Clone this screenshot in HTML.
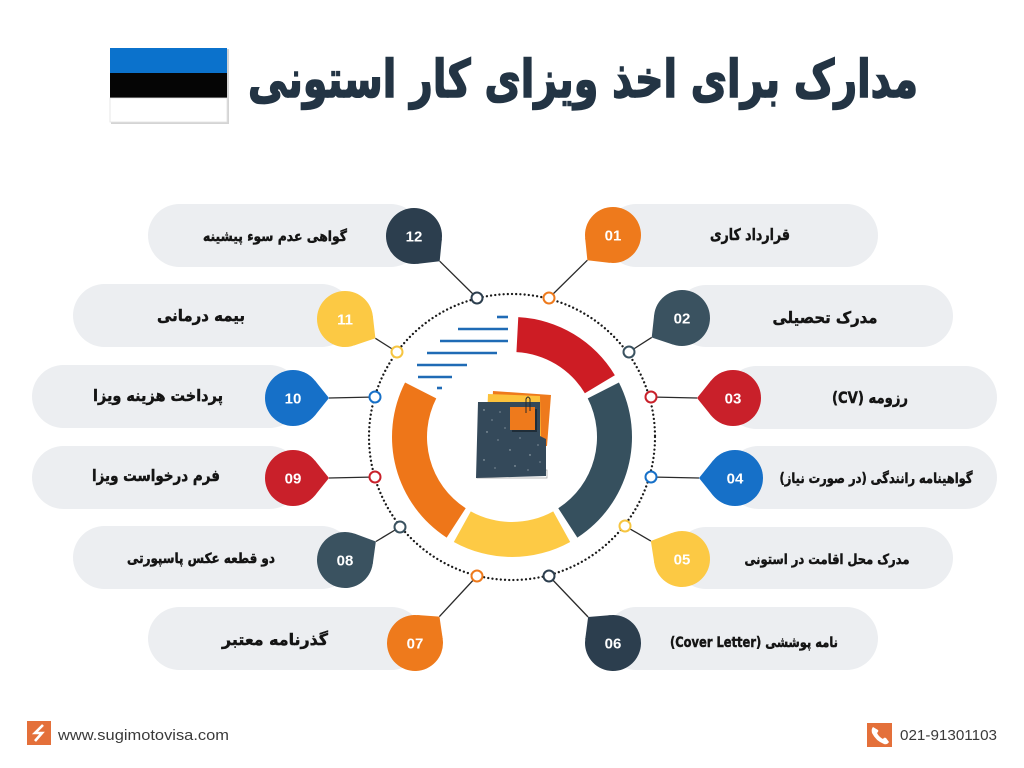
<!DOCTYPE html>
<html><head><meta charset="utf-8"><style>
html,body{margin:0;padding:0;background:#fff;}
svg{display:block;}
.lbl{font-family:"DejaVu Sans",sans-serif;font-weight:bold;fill:#141414;stroke:#141414;stroke-width:0.45;}
.num{font-family:"Liberation Sans",sans-serif;font-weight:bold;fill:#fff;font-size:15px;}
</style></head><body>
<svg width="1024" height="768" viewBox="0 0 1024 768" xmlns="http://www.w3.org/2000/svg">
<rect width="1024" height="768" fill="#fff"/>

<!-- Flag -->
<rect x="111" y="49" width="118" height="75" fill="#d4d4d4"/>
<rect x="110" y="48" width="117" height="25" fill="#0b72cc"/>
<rect x="110" y="73" width="117" height="25" fill="#050505"/>
<rect x="110" y="98" width="117" height="24" fill="#ffffff" stroke="#e2e2e2" stroke-width="0.8"/>

<!-- Title -->
<text x="583" y="97" text-anchor="middle" direction="rtl" font-family="DejaVu Sans, sans-serif" font-weight="bold" font-size="52" fill="#233444" stroke="#233444" stroke-width="1.6" textLength="670" lengthAdjust="spacingAndGlyphs">مدارک برای اخذ ویزای کار استونی</text>

<!-- Pills right -->
<g fill="#eceef1">
<rect x="605" y="204" width="273" height="63" rx="31.5"/>
<rect x="675" y="285" width="278" height="62" rx="31"/>
<rect x="725" y="366" width="272" height="63" rx="31.5"/>
<rect x="727" y="446" width="270" height="63" rx="31.5"/>
<rect x="675" y="527" width="278" height="62" rx="31"/>
<rect x="605" y="607" width="273" height="63" rx="31.5"/>
<!-- Pills left -->
<rect x="148" y="204" width="274" height="63" rx="31.5"/>
<rect x="73" y="284" width="280" height="63" rx="31.5"/>
<rect x="32" y="365" width="269" height="63" rx="31.5"/>
<rect x="32" y="446" width="269" height="63" rx="31.5"/>
<rect x="73" y="526" width="280" height="63" rx="31.5"/>
<rect x="148" y="607" width="275" height="63" rx="31.5"/>
</g>

<!-- Dotted circle -->
<circle cx="512" cy="437" r="143" fill="none" stroke="#1a1a1a" stroke-width="2.3" stroke-dasharray="0.01 4.2" stroke-linecap="round"/>

<!-- Connector lines -->
<g stroke="#2a2a2a" stroke-width="1.3">
<line x1="587.4" y1="260.2" x2="549" y2="298"/>
<line x1="651.7" y1="337.4" x2="629" y2="352"/>
<line x1="697" y1="398" x2="651" y2="397"/>
<line x1="699" y1="478" x2="651" y2="477"/>
<line x1="650.9" y1="541" x2="625" y2="526"/>
<line x1="588.1" y1="617" x2="549" y2="576"/>
<line x1="439.7" y1="261.2" x2="477" y2="298"/>
<line x1="375.4" y1="338.3" x2="397" y2="352"/>
<line x1="329" y1="398" x2="375" y2="397"/>
<line x1="329" y1="478" x2="375" y2="477"/>
<line x1="375.9" y1="541.5" x2="400" y2="527"/>
<line x1="439.4" y1="616.6" x2="477" y2="576"/>
</g>

<!-- Markers -->
<g fill="#fff" stroke-width="2">
<circle cx="549" cy="298" r="5.5" stroke="#ee7a1c"/>
<circle cx="629" cy="352" r="5.5" stroke="#3a5260"/>
<circle cx="651" cy="397" r="5.5" stroke="#c9202a"/>
<circle cx="651" cy="477" r="5.5" stroke="#1670c8"/>
<circle cx="625" cy="526" r="5.5" stroke="#f6c540"/>
<circle cx="549" cy="576" r="5.5" stroke="#2c3e4e"/>
<circle cx="477" cy="576" r="5.5" stroke="#ee7a1c"/>
<circle cx="400" cy="527" r="5.5" stroke="#3a5260"/>
<circle cx="375" cy="477" r="5.5" stroke="#c9202a"/>
<circle cx="375" cy="397" r="5.5" stroke="#1670c8"/>
<circle cx="397" cy="352" r="5.5" stroke="#f6c540"/>
<circle cx="477" cy="298" r="5.5" stroke="#2c3e4e"/>
</g>

<!-- Donut -->
<path d="M518.28,317.17 A120,120 0 0 1 614.86,375.20 L584.86,393.22 A85,85 0 0 0 516.45,352.12 Z" fill="#cd1c24"/>
<path d="M618.92,382.52 A120,120 0 0 1 577.35,537.64 L558.29,508.29 A85,85 0 0 0 587.74,398.41 Z" fill="#36505e"/>
<path d="M570.18,541.95 A120,120 0 0 1 453.82,541.95 L470.79,511.34 A85,85 0 0 0 553.21,511.34 Z" fill="#fdca45"/>
<path d="M446.65,537.64 A120,120 0 0 1 405.08,382.52 L436.27,398.41 A85,85 0 0 0 465.71,508.29 Z" fill="#ee7619"/>

<!-- Blue stripes -->
<g stroke="#1f6bb5" stroke-width="2.6">
<line x1="497" y1="317" x2="508" y2="317"/>
<line x1="458" y1="329" x2="508" y2="329"/>
<line x1="440" y1="341" x2="508" y2="341"/>
<line x1="427" y1="353" x2="497" y2="353"/>
<line x1="417" y1="365" x2="467" y2="365"/>
<line x1="418" y1="377" x2="452" y2="377"/>
<line x1="437" y1="388" x2="442" y2="388"/>
</g>

<!-- Folder icon -->
<rect x="477" y="470" width="70" height="8" fill="#fff" stroke="#9a9a9a" stroke-width="0.7"/>
<polygon points="493,391 551,395 547,446 490,446" fill="#ee7a1c"/>
<polygon points="488,394 540,396 541,442 486,442" fill="#fcc23c"/>
<path d="M478,402 L540,402 L540,436 L546,439 L546,476 L476,478 Z" fill="#34495a"/>
<rect x="512" y="409" width="25" height="23" fill="#1f2d38"/>
<rect x="510" y="407" width="25" height="23" fill="#ee7a1c"/>
<path d="M526,413 L526,399 Q528,395 530,399 L530,411" fill="none" stroke="#2a2a2a" stroke-width="1"/>
<g fill="#cfd8dc" opacity="0.8">
<circle cx="484" cy="410" r="0.7"/><circle cx="492" cy="420" r="0.6"/><circle cx="500" cy="412" r="0.6"/>
<circle cx="487" cy="432" r="0.7"/><circle cx="498" cy="440" r="0.6"/><circle cx="510" cy="450" r="0.7"/>
<circle cx="520" cy="438" r="0.6"/><circle cx="530" cy="455" r="0.7"/><circle cx="538" cy="445" r="0.6"/>
<circle cx="484" cy="460" r="0.7"/><circle cx="495" cy="468" r="0.6"/><circle cx="515" cy="466" r="0.7"/>
<circle cx="528" cy="470" r="0.6"/><circle cx="540" cy="462" r="0.6"/><circle cx="505" cy="428" r="0.6"/>
</g>

<!-- Number badges -->
<g transform="translate(613,235) rotate(135.4)" fill="#ee7a1c"><circle r="28"/><path d="M36,0 L21.8,17.6 L21.8,-17.6 Z"/></g>
<g transform="translate(682,318) rotate(147.3)" fill="#3a5260"><circle r="28"/><path d="M36,0 L21.8,17.6 L21.8,-17.6 Z"/></g>
<g transform="translate(733,398) rotate(180)" fill="#c9202a"><circle r="28"/><path d="M36,0 L21.8,17.6 L21.8,-17.6 Z"/></g>
<g transform="translate(735,478) rotate(180)" fill="#1670c8"><circle r="28"/><path d="M36,0 L21.8,17.6 L21.8,-17.6 Z"/></g>
<g transform="translate(682,559) rotate(210.1)" fill="#fcc944"><circle r="28"/><path d="M36,0 L21.8,17.6 L21.8,-17.6 Z"/></g>
<g transform="translate(613,643) rotate(226.3)" fill="#2c3e4e"><circle r="28"/><path d="M36,0 L21.8,17.6 L21.8,-17.6 Z"/></g>
<g transform="translate(414,236) rotate(44.5)" fill="#2c3e4e"><circle r="28"/><path d="M36,0 L21.8,17.6 L21.8,-17.6 Z"/></g>
<g transform="translate(345,319) rotate(32.4)" fill="#fcc944"><circle r="28"/><path d="M36,0 L21.8,17.6 L21.8,-17.6 Z"/></g>
<g transform="translate(293,398) rotate(0)" fill="#1670c8"><circle r="28"/><path d="M36,0 L21.8,17.6 L21.8,-17.6 Z"/></g>
<g transform="translate(293,478) rotate(0)" fill="#c9202a"><circle r="28"/><path d="M36,0 L21.8,17.6 L21.8,-17.6 Z"/></g>
<g transform="translate(345,560) rotate(-31)" fill="#3a5260"><circle r="28"/><path d="M36,0 L21.8,17.6 L21.8,-17.6 Z"/></g>
<g transform="translate(415,643) rotate(-47.2)" fill="#ee7a1c"><circle r="28"/><path d="M36,0 L21.8,17.6 L21.8,-17.6 Z"/></g>

<g class="num" text-anchor="middle">
<text x="613" y="240.5">01</text>
<text x="682" y="323.5">02</text>
<text x="733" y="403.5">03</text>
<text x="735" y="483.5">04</text>
<text x="682" y="564.5">05</text>
<text x="613" y="648.5">06</text>
<text x="415" y="648.5">07</text>
<text x="345" y="565.5">08</text>
<text x="293" y="483.5">09</text>
<text x="293" y="403.5">10</text>
<text x="345" y="324.5">11</text>
<text x="414" y="241.5">12</text>
</g>

<!-- Labels -->
<g class="lbl" text-anchor="middle" direction="rtl">
<text x="750" y="240" font-size="16" textLength="80" lengthAdjust="spacingAndGlyphs">قرارداد کاری</text>
<text x="825" y="323" font-size="16" textLength="105" lengthAdjust="spacingAndGlyphs">مدرک تحصیلی</text>
<text x="870" y="403" font-size="16" textLength="76" lengthAdjust="spacingAndGlyphs">رزومه (CV)</text>
<text x="876" y="483" font-size="14" textLength="193" lengthAdjust="spacingAndGlyphs">گواهینامه رانندگی (در صورت نیاز)</text>
<text x="827" y="564" font-size="14" textLength="165" lengthAdjust="spacingAndGlyphs">مدرک محل اقامت در استونی</text>
<text x="754" y="647" font-size="14" textLength="168" lengthAdjust="spacingAndGlyphs">نامه پوششی (Cover Letter)</text>
<text x="275" y="241" font-size="14" textLength="144" lengthAdjust="spacingAndGlyphs">گواهی عدم سوء پیشینه</text>
<text x="201" y="321" font-size="16" textLength="88" lengthAdjust="spacingAndGlyphs">بیمه درمانی</text>
<text x="158" y="401" font-size="16" textLength="130" lengthAdjust="spacingAndGlyphs">پرداخت هزینه ویزا</text>
<text x="156" y="481" font-size="16" textLength="128" lengthAdjust="spacingAndGlyphs">فرم درخواست ویزا</text>
<text x="201" y="563" font-size="14" textLength="148" lengthAdjust="spacingAndGlyphs">دو قطعه عکس پاسپورتی</text>
<text x="275" y="645" font-size="16" textLength="106" lengthAdjust="spacingAndGlyphs">گذرنامه معتبر</text>
</g>

<!-- Footer left -->
<rect x="27" y="721" width="24" height="24" fill="#e4703a"/>
<path d="M43,725 L35,733 L42,733 L35,741" fill="none" stroke="#fff" stroke-width="2.6" stroke-linejoin="miter"/>
<text x="58" y="740" font-family="Liberation Sans, sans-serif" font-size="15" fill="#3a3a3a" textLength="171" lengthAdjust="spacingAndGlyphs">www.sugimotovisa.com</text>

<!-- Footer right -->
<rect x="867" y="723" width="25" height="24" fill="#e4703a"/>
<path d="M873,727 Q871,729 872,733 Q876,741 884,744 Q887,745 889,742 L886,738 Q884,737 883,739 Q879,737 877,733 Q879,731 878,730 Z" fill="#fff"/>
<text x="900" y="740" font-family="Liberation Sans, sans-serif" font-size="15" fill="#3a3a3a" textLength="97" lengthAdjust="spacingAndGlyphs">021-91301103</text>
</svg>
</body></html>
